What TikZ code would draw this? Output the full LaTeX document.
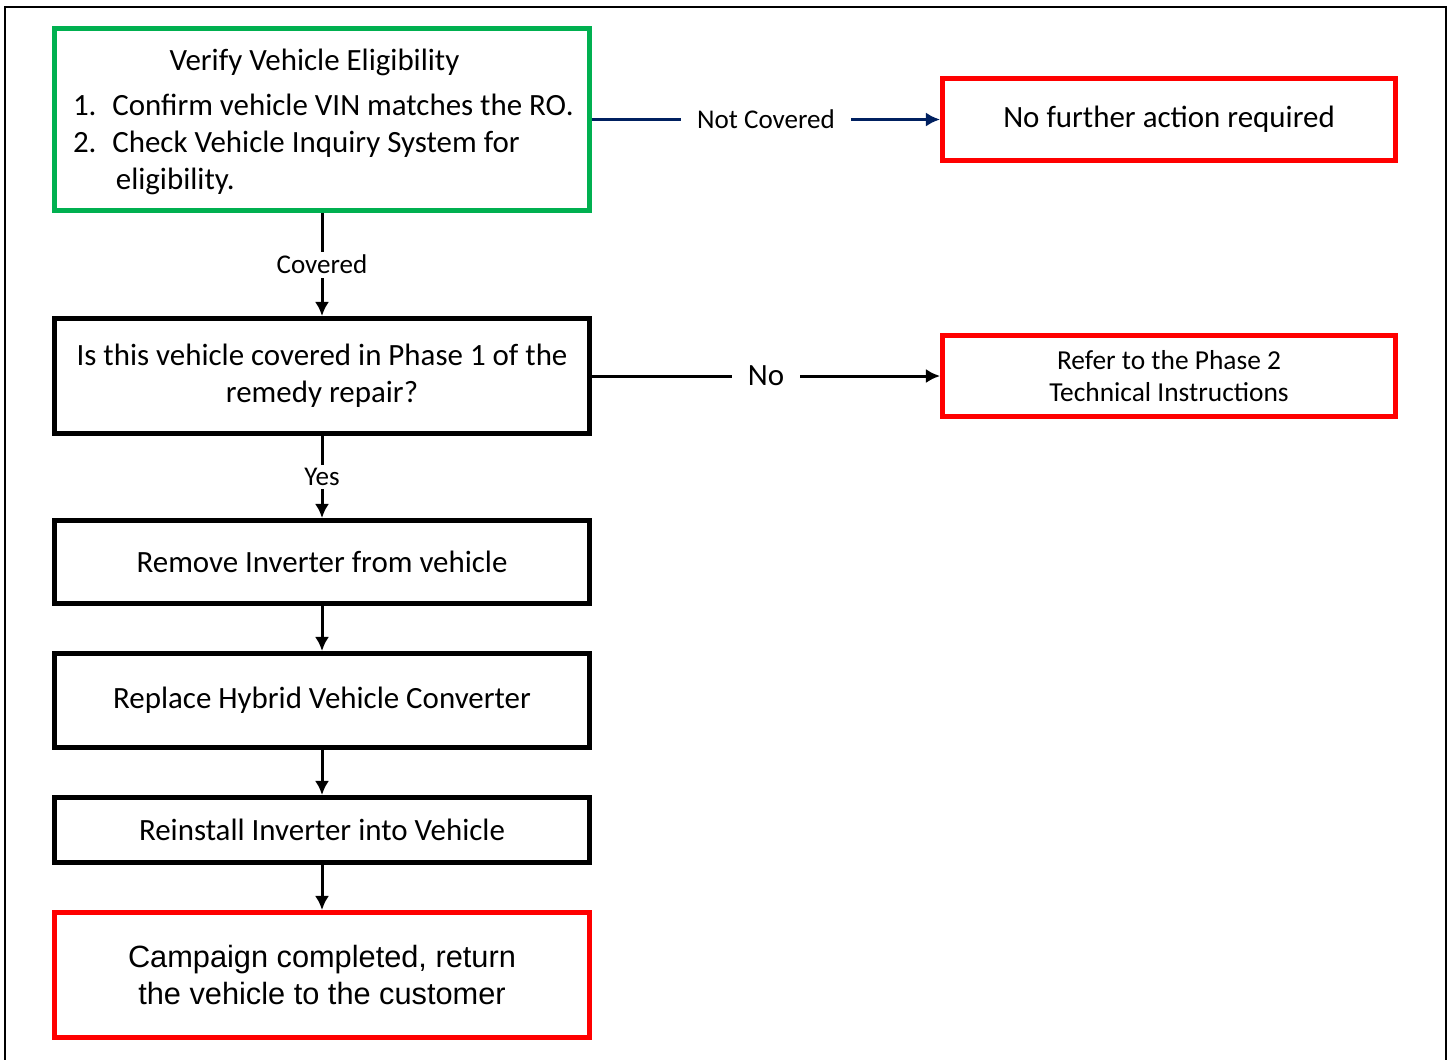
\documentclass[tikz,border=0pt]{standalone}
\usepackage{fontspec}
\setmainfont{Carlito}
\newfontfamily\arialfont{Liberation Sans}
\usetikzlibrary{positioning}
\usetikzlibrary{calc}
\usetikzlibrary{arrows.meta}
\definecolor{boxgreen}{RGB}{0,176,80}
\definecolor{boxred}{RGB}{255,0,0}
\definecolor{navyline}{RGB}{0,32,96}

\begin{document}
\begin{tikzpicture}[x=0.02cm,y=-0.02cm]
\tikzstyle{stepbox} =[rectangle,draw=black,line width=0.1cm,align=center,font=\fontsize{17.6}{21}\selectfont]
\tikzstyle{greenbox} =[stepbox,draw=boxgreen]
\tikzstyle{redbox} =[stepbox,draw=boxred]
\tikzstyle{flow} =[draw,line width=0.06cm,-{Latex[length=8pt,width=8pt]}]
\tikzstyle{tag} =[fill=white,font=\fontsize{15.4}{18}\selectfont,inner xsep=9pt]
\useasboundingbox (0,0) rectangle (1451,1059);
\draw[line width=0.04cm] (5,7) rectangle (1446,1080);

\node[greenbox,minimum width=10.7cm,minimum height=3.64cm](verify) at (322,119.5){%
\begin{minipage}{9.96cm}\vspace*{0.2cm}\centering\hspace*{-0.3cm}Verify Vehicle Eligibility\par\vspace{7pt}\raggedright
\begin{tabular}{@{}l@{\hspace{9pt}}l@{}}
1. & Confirm vehicle VIN matches the RO.\\
2. & Check Vehicle Inquiry System for\\
 & \hspace{2pt}eligibility.
\end{tabular}\end{minipage}};
\node[redbox,minimum width=9.06cm,minimum height=1.64cm](nofurther) at ($(verify)+(847,0)$){No further action required};

\node[stepbox,minimum width=10.7cm,minimum height=2.3cm](phase) at ($(verify)+(0,256.5)$){Is this vehicle covered in Phase 1 of the\\remedy repair?};
\node[redbox,minimum width=9.06cm,minimum height=1.62cm,font=\fontsize{15.6}{18}\selectfont](refer) at ($(verify)+(847,256.5)$){Refer to the Phase 2\\Technical Instructions};

\node[stepbox,minimum width=10.7cm,minimum height=1.66cm](remove) at ($(verify)+(0,442.5)$){Remove Inverter from vehicle};
\node[stepbox,minimum width=10.7cm,minimum height=1.88cm](replace) at ($(verify)+(0,581)$){Replace Hybrid Vehicle Converter};
\node[stepbox,minimum width=10.7cm,minimum height=1.30cm](reinstall) at ($(verify)+(0,710.5)$){Reinstall Inverter into Vehicle};
\node[redbox,minimum width=10.7cm,minimum height=2.5cm,font=\arialfont\fontsize{17.5}{21}\selectfont](done) at ($(verify)+(0,855.5)$){Campaign completed, return\\the vehicle to the customer};

% yes / no branches
\draw[flow,draw=navyline,fill=navyline] (verify.east)--(nofurther.west) node[tag,midway]{Not Covered};
\draw[flow] (verify.south)--(phase.north) node[tag,midway,inner ysep=2pt]{Covered};
\draw[flow] (phase.east)--(refer.west) node[tag,midway,font=\fontsize{17.6}{21}\selectfont]{No};
\draw[flow] (phase.south)--(remove.north) node[tag,midway,inner ysep=2pt]{Yes};

% repair steps
\draw[flow] (remove.south)--(replace.north);
\draw[flow] (replace.south)--(reinstall.north);
\draw[flow] (reinstall.south)--(done.north);
\end{tikzpicture}
\end{document}
